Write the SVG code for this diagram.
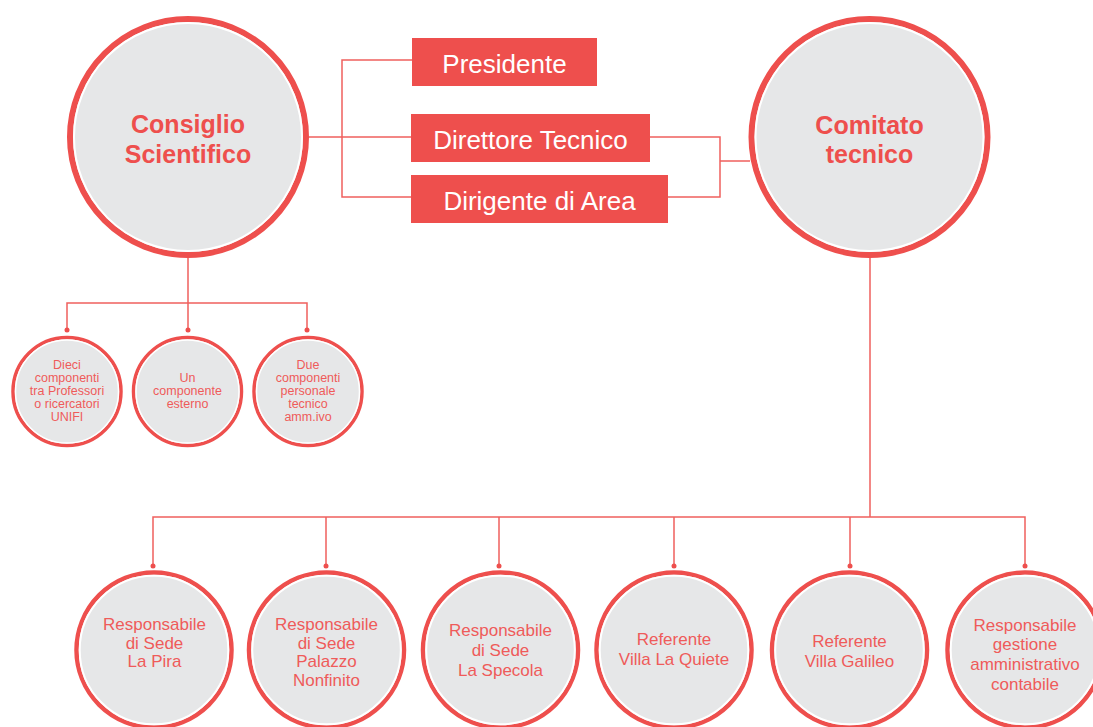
<svg xmlns="http://www.w3.org/2000/svg" width="1093" height="727" viewBox="0 0 1093 727">
<style>
.bigring{fill:#e6e7e8;stroke:#ee4f4d;stroke-width:6}
.ring{fill:#e6e7e8;stroke:#ee4f4d;stroke-width:3.5}
.midring{fill:#e6e7e8;stroke:#ee4f4d;stroke-width:4.5}
.gap{fill:none;stroke:#ffffff}
.head{font-family:"Liberation Sans",Arial,sans-serif;font-weight:bold;font-size:25px;fill:#ee4f4d;text-anchor:middle}
.box{fill:#ee4f4d}
.boxt{font-family:"Liberation Sans",Arial,sans-serif;font-size:26px;fill:#ffffff;text-anchor:middle}
.small{font-family:"Liberation Sans",Arial,sans-serif;font-size:12.5px;fill:#ef5b5a;text-anchor:middle}
.mid{font-family:"Liberation Sans",Arial,sans-serif;font-size:17px;fill:#ef5b5a;text-anchor:middle}
.conn{fill:none;stroke:#f0605e;stroke-width:1.5}
.dot{fill:#ee4f4d}
</style>
<rect width="1093" height="727" fill="#ffffff"/>
<g id="connectors">
<path class="conn" d="M309 137H411 M412 60H342V197H411 M650 137H720V197H668 M720 161H750"/>
<path class="conn" d="M188 258V303 M67 330V303H307V330 M188 303V330"/>
<circle class="dot" cx="67" cy="330" r="2.5"/><circle class="dot" cx="188" cy="330" r="2.5"/><circle class="dot" cx="307" cy="330" r="2.5"/>
<path class="conn" d="M870 258V517 M153 566V517H1025V566 M326 517V566 M499 517V566 M674 517V566 M850 517V566"/>
<circle class="dot" cx="153" cy="566" r="2.5"/><circle class="dot" cx="326" cy="566" r="2.5"/><circle class="dot" cx="499" cy="566" r="2.5"/><circle class="dot" cx="674" cy="566" r="2.5"/><circle class="dot" cx="850" cy="566" r="2.5"/><circle class="dot" cx="1025" cy="566" r="2.5"/>
</g>
<g id="consiglio-scientifico">
<circle class="bigring" cx="188" cy="137" r="118"/>
<circle class="gap" cx="188" cy="137" r="114" stroke-width="2"/>
<text class="head" x="188" y="133">Consiglio</text>
<text class="head" x="188" y="163">Scientifico</text>
</g>
<g id="comitato-tecnico">
<circle class="bigring" cx="869.5" cy="137" r="118"/>
<circle class="gap" cx="869.5" cy="137" r="114" stroke-width="2"/>
<text class="head" x="869.5" y="134">Comitato</text>
<text class="head" x="869.5" y="163">tecnico</text>
</g>
<g id="presidente">
<rect class="box" x="412" y="38" width="185" height="48"/>
<text class="boxt" x="504.5" y="73">Presidente</text>
</g>
<g id="direttore-tecnico">
<rect class="box" x="411" y="114" width="239" height="48"/>
<text class="boxt" x="530.5" y="149">Direttore Tecnico</text>
</g>
<g id="dirigente-area">
<rect class="box" x="411" y="175" width="257" height="48"/>
<text class="boxt" x="539.5" y="210">Dirigente di Area</text>
</g>
<g id="dieci-componenti">
<circle class="ring" cx="67" cy="391.5" r="54"/>
<circle class="gap" cx="67" cy="391.5" r="51.5" stroke-width="1.5"/>
<text class="small" x="67"><tspan x="67" y="368.5">Dieci</tspan><tspan x="67" y="381.5">componenti</tspan><tspan x="67" y="394.5">tra Professori</tspan><tspan x="67" y="407.5">o ricercatori</tspan><tspan x="67" y="420.5">UNIFI</tspan></text>
</g>
<g id="un-componente">
<circle class="ring" cx="187.5" cy="391.5" r="54"/>
<circle class="gap" cx="187.5" cy="391.5" r="51.5" stroke-width="1.5"/>
<text class="small"><tspan x="187.5" y="381.5">Un</tspan><tspan x="187.5" y="394.5">componente</tspan><tspan x="187.5" y="407.5">esterno</tspan></text>
</g>
<g id="due-componenti">
<circle class="ring" cx="308" cy="391.5" r="54"/>
<circle class="gap" cx="308" cy="391.5" r="51.5" stroke-width="1.5"/>
<text class="small"><tspan x="308" y="368.5">Due</tspan><tspan x="308" y="381.5">componenti</tspan><tspan x="308" y="394.5">personale</tspan><tspan x="308" y="407.5">tecnico</tspan><tspan x="308" y="420.5">amm.ivo</tspan></text>
</g>
<g id="resp-la-pira">
<circle class="midring" cx="154" cy="650" r="77.5"/>
<circle class="gap" cx="154" cy="650" r="74.3" stroke-width="2"/>
<text class="mid"><tspan x="154.5" y="630">Responsabile</tspan><tspan x="154.5" y="648.5">di Sede</tspan><tspan x="154.5" y="667">La Pira</tspan></text>
</g>
<g id="resp-palazzo-nonfinito">
<circle class="midring" cx="326.5" cy="650" r="77.5"/>
<circle class="gap" cx="326.5" cy="650" r="74.3" stroke-width="2"/>
<text class="mid"><tspan x="326.5" y="630">Responsabile</tspan><tspan x="326.5" y="648.5">di Sede</tspan><tspan x="326.5" y="667">Palazzo</tspan><tspan x="326.5" y="685.5">Nonfinito</tspan></text>
</g>
<g id="resp-la-specola">
<circle class="midring" cx="500.5" cy="650" r="77.5"/>
<circle class="gap" cx="500.5" cy="650" r="74.3" stroke-width="2"/>
<text class="mid"><tspan x="500.5" y="636">Responsabile</tspan><tspan x="500.5" y="656">di Sede</tspan><tspan x="500.5" y="676">La Specola</tspan></text>
</g>
<g id="ref-villa-la-quiete">
<circle class="midring" cx="674" cy="650" r="77.5"/>
<circle class="gap" cx="674" cy="650" r="74.3" stroke-width="2"/>
<text class="mid"><tspan x="674" y="644.5">Referente</tspan><tspan x="674" y="665">Villa La Quiete</tspan></text>
</g>
<g id="ref-villa-galileo">
<circle class="midring" cx="849.5" cy="650" r="77.5"/>
<circle class="gap" cx="849.5" cy="650" r="74.3" stroke-width="2"/>
<text class="mid"><tspan x="849.5" y="646.5">Referente</tspan><tspan x="849.5" y="666.5">Villa Galileo</tspan></text>
</g>
<g id="resp-gestione">
<circle class="midring" cx="1025" cy="650" r="77.5"/>
<circle class="gap" cx="1025" cy="650" r="74.3" stroke-width="2"/>
<text class="mid"><tspan x="1025" y="630.5">Responsabile</tspan><tspan x="1025" y="650">gestione</tspan><tspan x="1025" y="670">amministrativo</tspan><tspan x="1025" y="689.5">contabile</tspan></text>
</g>
</svg>
